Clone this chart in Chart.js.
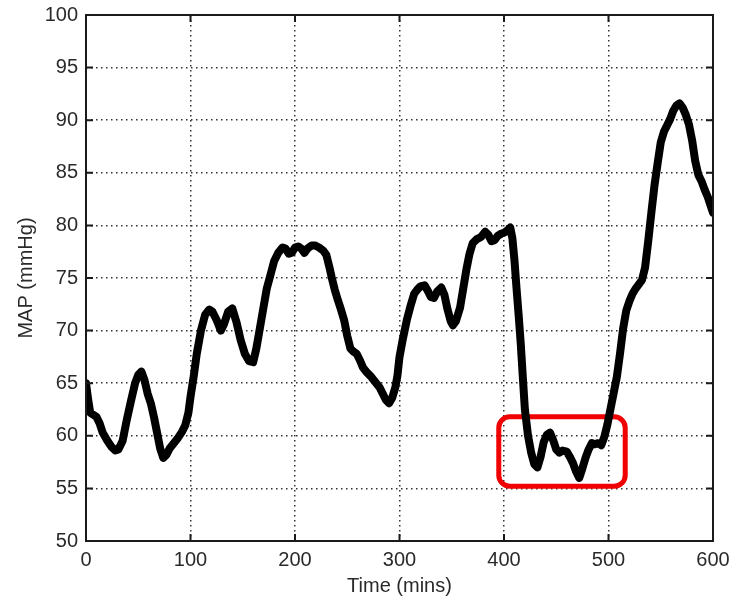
<!DOCTYPE html>
<html>
<head>
<meta charset="utf-8">
<title>MAP over time</title>
<script src="https://cdn.jsdelivr.net/npm/chart.js@4/dist/chart.umd.min.js"></script>
<style>
  html, body { margin: 0; padding: 0; background: #fff; }
  #wrap { width: 730px; height: 603px; }
</style>
</head>
<body>
<div id="wrap"><canvas id="mapChart" width="730" height="603"></canvas></div>
<script>
// mean arterial pressure trace, sampled every few minutes
const timeMins = [
  0, 2, 4, 7, 10, 13, 16, 20, 24, 28, 31, 35, 39, 43, 47, 50, 53, 56, 59, 62,
  65, 68, 71, 74, 77, 80, 84, 88, 92, 95, 98, 100, 103, 106, 110, 114, 118, 121, 125, 129,
  132, 136, 140, 144, 148, 152, 156, 160, 163, 166, 170, 173, 176, 180, 184, 188, 191, 194, 197, 200,
  203, 206, 209, 212, 216, 219, 223, 227, 230, 233, 235, 238, 241, 244, 247, 250, 253, 256, 259, 262,
  265, 269, 273, 277, 281, 284, 287, 290, 293, 296, 298, 300, 303, 307, 311, 314, 317, 320, 324, 327,
  330, 333, 336, 340, 343, 346, 349, 351, 354, 358, 361, 364, 367, 370, 374, 378, 382, 385, 388, 391,
  394, 397, 400, 403, 406, 408, 410, 412, 414, 416, 418, 420, 423, 426, 429, 432, 435, 438, 441, 444,
  447, 450, 453, 456, 460, 463, 466, 469, 472, 475, 478, 481, 484, 487, 490, 493, 496, 499, 502, 505,
  508, 511, 514, 517, 520, 523, 526, 529, 532, 535, 538, 541, 544, 547, 550, 553, 556, 559, 562, 565,
  568, 571, 574, 577, 580, 583, 586, 589, 592, 595, 598, 600
];
const mapValues = [
  65.0, 63.5, 62.2, 62.0, 61.8, 61.2, 60.3, 59.6, 59.0, 58.6, 58.7, 59.5, 61.5, 63.3, 65.0, 65.8, 66.1, 65.3, 64.0, 63.1,
  61.8, 60.3, 58.8, 57.9, 58.2, 58.8, 59.3, 59.8, 60.4, 61.0, 62.2, 63.7, 65.6, 67.8, 70.0, 71.5, 72.0, 71.8, 71.0, 70.0,
  70.6, 71.8, 72.1, 70.8, 69.1, 67.8, 67.1, 67.0, 68.3, 70.0, 72.3, 74.0, 75.1, 76.6, 77.4, 77.9, 77.8, 77.3, 77.4, 77.9,
  78.0, 77.8, 77.4, 77.8, 78.1, 78.1, 77.9, 77.6, 77.2, 76.0, 75.1, 73.9, 72.9, 72.0, 71.0, 69.5, 68.3, 68.0, 67.8, 67.2,
  66.5, 66.0, 65.6, 65.1, 64.6, 64.0, 63.4, 63.1, 63.6, 64.6, 65.7, 67.5, 69.1, 71.0, 72.5, 73.5, 73.9, 74.2, 74.3, 73.8,
  73.2, 73.1, 73.7, 74.1, 73.4, 72.0, 70.9, 70.5, 70.9, 72.2, 74.0, 75.8, 77.3, 78.3, 78.7, 78.9, 79.4, 79.1, 78.5, 78.6,
  79.0, 79.2, 79.3, 79.5, 79.8, 78.8, 76.7, 74.0, 71.5, 68.8, 65.6, 62.5, 60.0, 58.4, 57.3, 57.0, 58.0, 59.4, 60.1, 60.3,
  59.6, 58.7, 58.4, 58.6, 58.5, 58.0, 57.4, 56.6, 56.0, 56.9, 57.9, 58.7, 59.3, 59.2, 59.3, 59.1, 59.9, 61.1, 62.6, 64.1,
  65.6, 67.8, 70.2, 71.9, 72.8, 73.5, 74.0, 74.4, 74.8, 76.0, 78.5, 81.2, 83.8, 85.9, 87.9, 88.9, 89.5, 90.1, 90.9, 91.4,
  91.6, 91.2, 90.5, 89.6, 88.1, 86.1, 84.8, 84.2, 83.4, 82.7, 81.8, 81.2
];

const xTicks = [0, 100, 200, 300, 400, 500, 600];
const yTicks = [50, 55, 60, 65, 70, 75, 80, 85, 90, 95, 100];

// highlighted low-pressure window: [tStart, tEnd, mapLow, mapHigh]
const lowWindow = [395, 516, 55.2, 61.8];

const FONT = "'Liberation Sans', Arial, Helvetica, sans-serif";
const TEXT = "#2a2a2a";

// red rounded box behind the trace
const windowBox = {
  id: "windowBox",
  beforeDatasetsDraw(chart) {
    const { ctx, scales: { x, y } } = chart;
    const x0 = x.getPixelForValue(lowWindow[0]);
    const x1 = x.getPixelForValue(lowWindow[1]);
    const y0 = y.getPixelForValue(lowWindow[3]);
    const y1 = y.getPixelForValue(lowWindow[2]);
    ctx.save();
    ctx.strokeStyle = "#f00000";
    ctx.lineWidth = 5;
    ctx.beginPath();
    ctx.roundRect(x0, y0, x1 - x0, y1 - y0, 11);
    ctx.stroke();
    ctx.restore();
  }
};

// matlab style box with inward ticks on every side
const axesBox = {
  id: "axesBox",
  afterDraw(chart) {
    const { ctx, chartArea: a, scales: { x, y } } = chart;
    const len = 7;
    ctx.save();
    ctx.strokeStyle = "#1a1a1a";
    ctx.lineWidth = 2;
    ctx.beginPath();
    xTicks.forEach(v => {
      const px = x.getPixelForValue(v);
      ctx.moveTo(px, a.bottom); ctx.lineTo(px, a.bottom - len);
      ctx.moveTo(px, a.top); ctx.lineTo(px, a.top + len);
    });
    yTicks.forEach(v => {
      const py = y.getPixelForValue(v);
      ctx.moveTo(a.left, py); ctx.lineTo(a.left + len, py);
      ctx.moveTo(a.right, py); ctx.lineTo(a.right - len, py);
    });
    ctx.stroke();
    ctx.strokeRect(a.left, a.top, a.right - a.left, a.bottom - a.top);
    ctx.restore();
  }
};

const points = timeMins.map((t, i) => ({ x: t, y: mapValues[i] }));

new Chart(document.getElementById("mapChart"), {
  type: "line",
  data: {
    datasets: [{
      data: points,
      borderColor: "#000",
      borderWidth: 8,
      borderCapStyle: "round",
      borderJoinStyle: "round",
      pointRadius: 0,
      tension: 0,
      fill: false
    }]
  },
  options: {
    responsive: false,
    animation: false,
    devicePixelRatio: 1,
    layout: { padding: { top: 15, right: 17, left: 0, bottom: 0 } },
    plugins: { legend: { display: false }, tooltip: { enabled: false } },
    scales: {
      x: {
        type: "linear",
        min: 0, max: 600,
        afterBuildTicks: s => { s.ticks = xTicks.map(v => ({ value: v })); },
        afterFit: s => { s.height = 62; s.paddingLeft = 0; s.paddingRight = 0; },
        ticks: { color: TEXT, font: { family: FONT, size: 20 }, padding: 7, maxRotation: 0 },
        grid: { color: "#333", lineWidth: 1.5, drawTicks: false },
        border: { display: false, dash: [1.5, 3.5] },
        title: { display: true, text: "Time (mins)", color: TEXT, font: { family: FONT, size: 20 }, padding: { top: 0, bottom: 5 } }
      },
      y: {
        min: 50, max: 100,
        afterBuildTicks: s => { s.ticks = yTicks.map(v => ({ value: v })); },
        afterFit: s => { s.width = 86; s.paddingTop = 0; s.paddingBottom = 0; },
        ticks: { color: TEXT, font: { family: FONT, size: 20 }, padding: 8 },
        grid: { color: "#333", lineWidth: 1.5, drawTicks: false },
        border: { display: false, dash: [1.5, 3.5] },
        title: { display: true, text: "MAP (mmHg)", color: TEXT, font: { family: FONT, size: 20 }, padding: { top: 14, bottom: 0 } }
      }
    }
  },
  plugins: [windowBox, axesBox]
});
</script>
</body>
</html>
